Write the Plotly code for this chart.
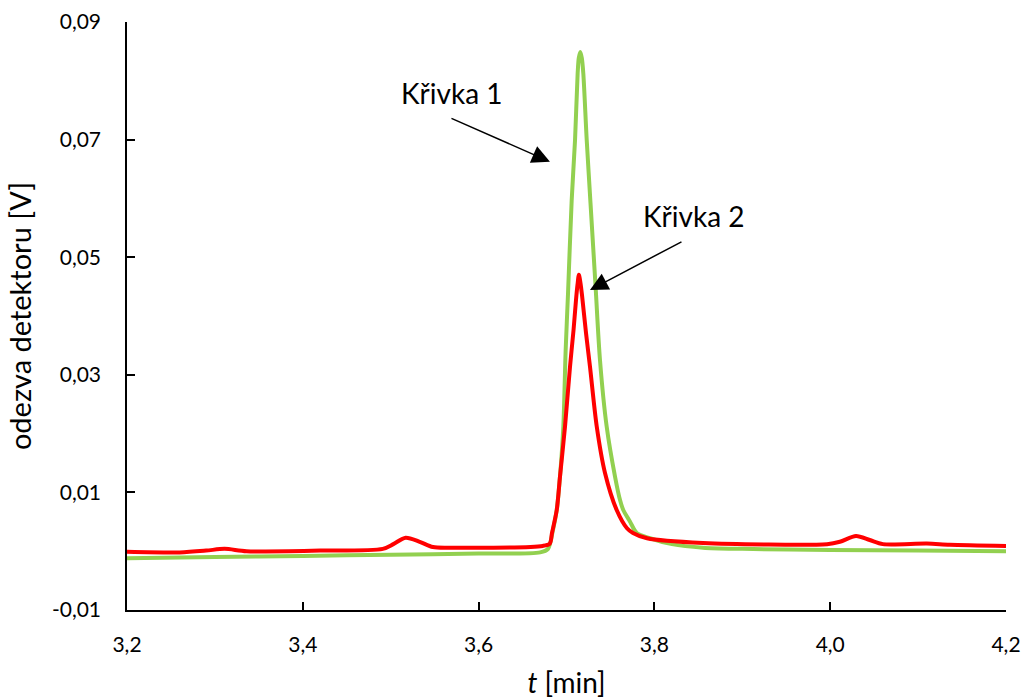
import plotly.graph_objects as go

# ---- data ----
t_curve1 = [3.200, 3.300, 3.400, 3.500, 3.600, 3.670, 3.679, 3.6846, 3.6889, 3.6926,
            3.6964, 3.6990, 3.7017, 3.7059, 3.7097, 3.7127, 3.7140, 3.7157, 3.7174, 3.7191,
            3.7230, 3.7273, 3.7330, 3.7381, 3.7457, 3.7552, 3.7609, 3.7646, 3.7720, 3.7799,
            3.7950, 3.8200, 3.8553, 3.9000, 4.0000, 4.1000, 4.2000]
v_curve1 = [-0.0012, -0.0010, -0.0008, -0.0006, -0.0004, -0.0002, 0.0004, 0.0036, 0.0070, 0.0127,
            0.0212, 0.0340, 0.0437, 0.0597, 0.0699, 0.0813, 0.0839, 0.0849, 0.0839, 0.0813,
            0.0699, 0.0592, 0.0452, 0.0325, 0.0212, 0.0127, 0.0087, 0.0070, 0.0051, 0.0031,
            0.0022, 0.0012, 0.0006, 0.0004, 0.0002, 0.0001, 0.0000]

t_curve2 = [3.200, 3.260, 3.290, 3.311, 3.336, 3.420, 3.491, 3.503, 3.517, 3.533,
            3.548, 3.571, 3.673, 3.681, 3.6835, 3.6889, 3.6926, 3.6983, 3.7040, 3.7080,
            3.7108, 3.7125, 3.7141, 3.7159, 3.7176, 3.7222, 3.7267, 3.7344, 3.7438, 3.7571,
            3.7688, 3.7756, 3.7916, 3.8553, 3.9964, 4.0110, 4.0294, 4.0450, 4.0600, 4.1100,
            4.1360, 4.2000]
v_curve2 = [-0.0001, -0.0002, 0.0001, 0.0004, 0.0000, 0.0001, 0.0004, 0.0012, 0.0023, 0.0016,
            0.0007, 0.0006, 0.0009, 0.0013, 0.0031, 0.0070, 0.0127, 0.0212, 0.0314, 0.0376,
            0.0427, 0.0453, 0.0470, 0.0456, 0.0436, 0.0371, 0.0314, 0.0212, 0.0133, 0.0070,
            0.0039, 0.0031, 0.0022, 0.0014, 0.0012, 0.0016, 0.0026, 0.0019, 0.0012, 0.0013,
            0.0011, 0.0009]

x_tickvals = [3.2, 3.4, 3.6, 3.8, 4.0, 4.2]
x_ticktext = ["3,2", "3,4", "3,6", "3,8", "4,0", "4,2"]
y_tickvals = [-0.01, 0.01, 0.03, 0.05, 0.07, 0.09]
y_ticktext = ["-0,01", "0,01", "0,03", "0,05", "0,07", "0,09"]

FONT = "Lato"

fig = go.Figure()
fig.add_trace(go.Scatter(x=t_curve1, y=v_curve1, mode="lines", name="Křivka 1",
                         line=dict(color="#92D050", width=4, shape="spline", smoothing=0.8)))
fig.add_trace(go.Scatter(x=t_curve2, y=v_curve2, mode="lines", name="Křivka 2",
                         line=dict(color="#FF0000", width=4, shape="spline", smoothing=0.8)))

fig.update_layout(
    width=1023, height=699,
    margin=dict(l=127, r=17, t=22, b=89, autoexpand=False),
    paper_bgcolor="white", plot_bgcolor="white",
    showlegend=False,
    separators=", ",
    font=dict(family=FONT, color="#000000", size=21),
    xaxis=dict(
        range=[3.2, 4.2], tickvals=x_tickvals, ticktext=x_ticktext,
        showgrid=False, zeroline=False, showline=True, linecolor="black", linewidth=1.5,
        ticks="inside", ticklen=8, tickwidth=1.5, tickcolor="black",
        tickfont=dict(family=FONT, size=21, color="#000000"),
        ticklabelstandoff=15,
        title=dict(text="<i>t</i> [min]", font=dict(family=FONT, size=28, color="#000000"), standoff=18),
    ),
    yaxis=dict(
        range=[-0.01, 0.09], tickvals=y_tickvals, ticktext=y_ticktext,
        showgrid=False, zeroline=False, showline=True, linecolor="black", linewidth=1.5,
        ticks="inside", ticklen=8, tickwidth=1.5, tickcolor="black",
        tickfont=dict(family=FONT, size=21, color="#000000"),
        ticklabelstandoff=20,
        title=dict(text="odezva detektoru [V]", font=dict(family=FONT, size=29, color="#000000"), standoff=12),
    ),
)

# labels
fig.add_annotation(x=3.5697, y=0.0779, text="Křivka 1", showarrow=False,
                   xanchor="center", yanchor="middle", font=dict(family=FONT, size=28, color="#000000"))
fig.add_annotation(x=3.8443, y=0.0570, text="Křivka 2", showarrow=False,
                   xanchor="center", yanchor="middle", font=dict(family=FONT, size=28, color="#000000"))
# arrows
fig.add_annotation(x=3.6812, y=0.06624, text="", showarrow=True, ax=-100, ay=-44,
                   arrowhead=2, arrowsize=2.4, arrowwidth=1.5, arrowcolor="black")
fig.add_annotation(x=3.7267, y=0.04442, text="", showarrow=True, ax=93, ay=-49,
                   arrowhead=2, arrowsize=2.4, arrowwidth=1.5, arrowcolor="black")

fig.write_html("out.html")
